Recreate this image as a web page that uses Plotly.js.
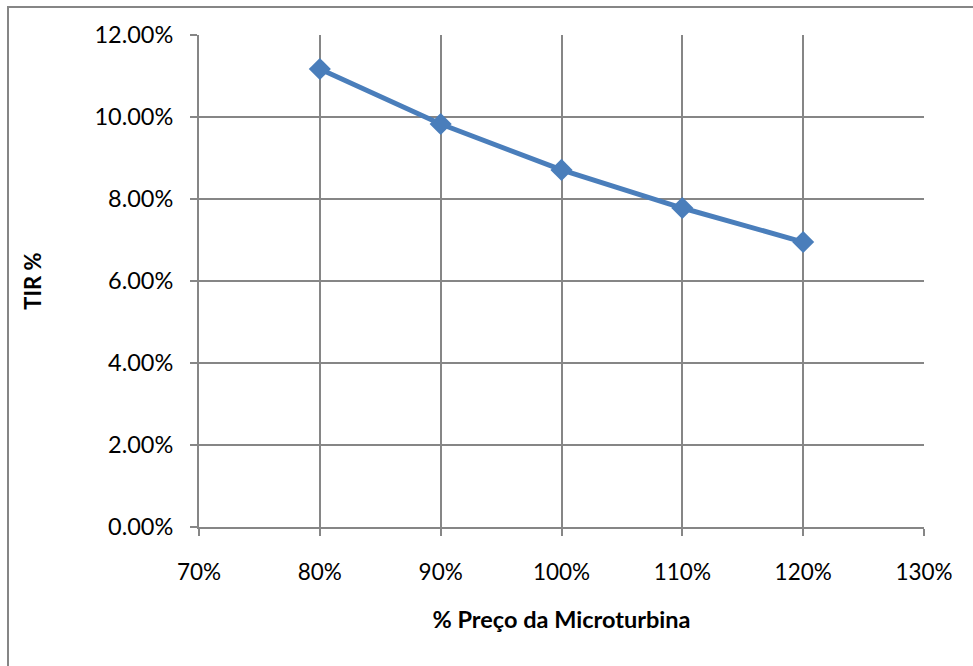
<!DOCTYPE html>
<html>
<head>
<meta charset="utf-8">
<script src="https://cdn.plot.ly/plotly-3.0.1.min.js"></script>
<style>html,body{margin:0;padding:0;background:#fff;}#chart{width:973px;height:666px;}</style>
</head>
<body>
<div id="chart"></div>
<script>
const precoMicroturbina = [0.8, 0.9, 1.0, 1.1, 1.2];
const tir = [0.1117, 0.0983, 0.0871, 0.0778, 0.0695];
const xTitle = '% Preço da Microturbina';
const yTitle = 'TIR %';

const fontFam = 'Lato, "Open Sans", sans-serif';
const grid = '#868686';

const trace = {
  x: precoMicroturbina,
  y: tir,
  type: 'scatter',
  mode: 'lines+markers',
  line: {color: '#4a7ebb', width: 5},
  marker: {symbol: 'diamond', size: 17, color: '#4a7ebb'},
  hoverinfo: 'x+y'
};

const layout = {
  width: 973, height: 666,
  margin: {l: 199, r: 49, t: 35, b: 139},
  paper_bgcolor: '#fff', plot_bgcolor: '#fff',
  showlegend: false,
  font: {family: fontFam, size: 23, color: '#000'},
  xaxis: {
    range: [0.7, 1.3], dtick: 0.1, tick0: 0.7, tickformat: '.0%',
    showgrid: true, gridcolor: grid, gridwidth: 2,
    showline: true, linecolor: grid, linewidth: 2,
    ticks: 'outside', ticklen: 7, tickwidth: 2, tickcolor: grid,
    zeroline: false, ticklabelstandoff: 17,
    tickfont: {family: fontFam, size: 22.5, color: '#000'},
    title: {text: xTitle, font: {family: fontFam, size: 23.5, color: '#000', weight: 'bold'}, standoff: 28}
  },
  yaxis: {
    range: [0, 0.12], dtick: 0.02, tickformat: '.2%',
    showgrid: true, gridcolor: grid, gridwidth: 2,
    showline: true, linecolor: grid, linewidth: 2,
    ticks: 'outside', ticklen: 7, tickwidth: 2, tickcolor: grid,
    zeroline: false, ticklabelstandoff: 12,
    tickfont: {family: fontFam, size: 23.5, color: '#000'},
    title: {text: yTitle, font: {family: fontFam, size: 22, color: '#000', weight: 'bold'}, standoff: 47}
  },
  shapes: [{
    type: 'rect', xref: 'paper', yref: 'paper',
    x0: -191/725, x1: 1.2, y0: -1, y1: 1 + 28/492,
    line: {color: '#868686', width: 2}, fillcolor: 'rgba(0,0,0,0)', layer: 'below'
  }]
};

Plotly.newPlot('chart', [trace], layout, {displayModeBar: false, staticPlot: true});
</script>
</body>
</html>
